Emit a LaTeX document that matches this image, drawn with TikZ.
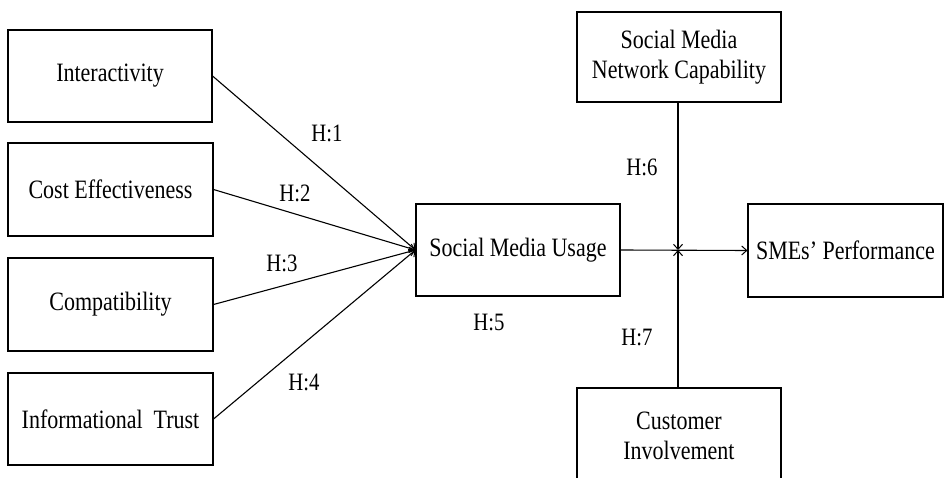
\documentclass[tikz,border=0pt]{standalone}
\usepackage{fontspec}
\setmainfont[FakeStretch=0.83]{Liberation Serif}
\usetikzlibrary{arrows.meta}
\begin{document}
\begin{tikzpicture}[x=1pt,y=-1pt,
  box/.style={draw, line width=1.1pt, align=center, inner sep=0pt, font=\fontsize{26.5}{30}\selectfont},
  lbl/.style={font=\fontsize{25}{28}\selectfont, inner sep=0pt},
  conn/.style={line width=1.1pt},
  arr/.style={conn, -{Straight Barb[length=5pt,width=9pt,line width=1pt]}}]
\useasboundingbox (0,0) rectangle (945,478);
\node[box, minimum width=204pt, minimum height=92pt] (int) at (110,76) {Interactivity};
\node[box, minimum width=205pt, minimum height=93pt] (cost) at (110.5,189.5) {Cost Effectiveness};
\node[box, minimum width=205pt, minimum height=93pt] (comp) at (110.5,304.5) {Compatibility};
\node[box, minimum width=205pt, minimum height=92pt] (trust) at (110.5,419) {Informational\ \ Trust};
\node[box, minimum width=204pt, minimum height=92pt] (smu) at (518,250) {Social Media Usage};
\node[box, minimum width=195pt, minimum height=93pt] (smes) at (845.5,250.5) {SMEs’ Performance};
\node[box, minimum width=204pt, minimum height=90pt] (net) at (679,57) {Social Media\\Network Capability};
\node[box, minimum width=204pt, minimum height=96pt] (cust) at (679,436) {Customer\\Involvement};
\coordinate (x) at (678,250);
\draw[arr] (int.east) -- (smu.west);
\draw[arr] (cost.east) -- (smu.west);
\draw[arr] (comp.east) -- (smu.west);
\draw[arr] (trust.east) -- (smu.west);
\draw[arr] (smu.east) -- (smes.west);
\draw[arr] (net.south -| x) -- (x);
\draw[arr] (cust.north -| x) -- (x);
\node[lbl] (h1) at (327,133) {H:1};
\node[lbl] (h2) at (295,193) {H:2};
\node[lbl] (h3) at (282,263) {H:3};
\node[lbl] (h4) at (304,382) {H:4};
\node[lbl] (h5) at (489,322) {H:5};
\node[lbl] (h6) at (642,167) {H:6};
\node[lbl] (h7) at (637,337) {H:7};
\end{tikzpicture}
\end{document}
